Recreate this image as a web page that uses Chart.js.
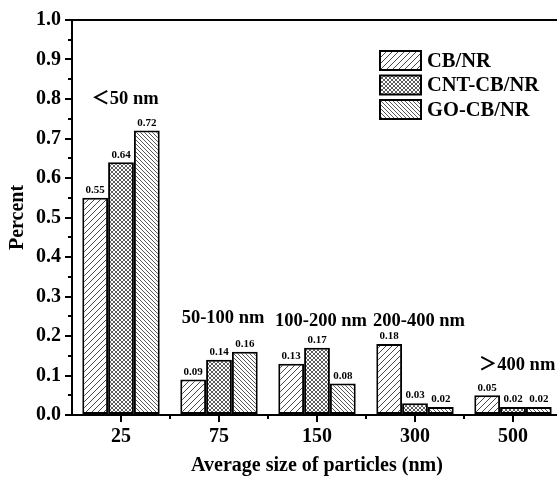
<!DOCTYPE html>
<html>
<head>
<meta charset="utf-8">
<script src="https://cdn.jsdelivr.net/npm/chart.js@4.4.0/dist/chart.umd.min.js"></script>
<style>
  html, body { margin: 0; padding: 0; background: #fff; overflow: hidden; }
  #wrap { width: 566px; height: 482px; }
</style>
</head>
<body>
<div id="wrap"><canvas id="chart" width="566" height="482"></canvas></div>
<script>
// particle size categories (nm)
const categories = ['25', '75', '150', '300', '500'];
const seriesNames = ['CB/NR', 'CNT-CB/NR', 'GO-CB/NR'];
const cbValues = [0.55, 0.09, 0.13, 0.18, 0.05];
const cntValues = [0.64, 0.14, 0.17, 0.03, 0.02];
const goValues = [0.72, 0.16, 0.08, 0.02, 0.02];
const yTicks = [0, 0.1, 0.2, 0.3, 0.4, 0.5, 0.6, 0.7, 0.8, 0.9, 1.0];
// size range labels and the height they sit at
const rangeLabels = ['\uFF1C50 nm', '50-100 nm', '100-200 nm', '200-400 nm', '\uFF1E400 nm'];
const rangeLabelY = [0.80, 0.245, 0.238, 0.238, 0.127];

const FONT = "'Liberation Serif', 'Noto Sans CJK SC', serif";

function makePattern(kind) {
  const s = kind === 'slash' ? 6 : 4;
  const c = document.createElement('canvas');
  c.width = s; c.height = s;
  const g = c.getContext('2d');
  g.fillStyle = '#fff';
  g.fillRect(0, 0, s, s);
  g.strokeStyle = kind === 'back' ? '#444' : '#333';
  g.lineWidth = kind === 'cross' ? 0.8 : 0.9;
  g.beginPath();
  if (kind === 'slash' || kind === 'cross') {
    g.moveTo(-1, s + 1); g.lineTo(s + 1, -1);
    g.moveTo(-1, 1); g.lineTo(1, -1);
    g.moveTo(s - 1, s + 1); g.lineTo(s + 1, s - 1);
  }
  if (kind === 'back' || kind === 'cross') {
    g.moveTo(-1, -1); g.lineTo(s + 1, s + 1);
    g.moveTo(s - 1, -1); g.lineTo(s + 1, 1);
    g.moveTo(-1, s - 1); g.lineTo(1, s + 1);
  }
  g.stroke();
  return g.createPattern(c, 'repeat');
}

const fills = [makePattern('slash'), makePattern('cross'), makePattern('back')];

const extras = {
  id: 'extras',
  afterDatasetsDraw(chart) {
    const ctx = chart.ctx;
    const x = chart.scales.x, y = chart.scales.y;
    const area = chart.chartArea;
    ctx.save();
    // top frame line
    ctx.strokeStyle = '#000';
    ctx.lineWidth = 2;
    ctx.beginPath();
    ctx.moveTo(area.left - 1, area.top);
    ctx.lineTo(area.right, area.top);
    ctx.stroke();
    // minor ticks
    ctx.beginPath();
    for (let i = 0; i < yTicks.length - 1; i++) {
      const py = Math.round(y.getPixelForValue((yTicks[i] + yTicks[i + 1]) / 2));
      ctx.moveTo(area.left, py); ctx.lineTo(area.left - 4, py);
    }
    for (let i = 0; i < categories.length - 1; i++) {
      const px = Math.round((x.getPixelForValue(i) + x.getPixelForValue(i + 1)) / 2);
      ctx.moveTo(px, area.bottom); ctx.lineTo(px, area.bottom + 4);
    }
    ctx.stroke();
    // value labels
    ctx.fillStyle = '#000';
    ctx.textAlign = 'center';
    ctx.textBaseline = 'bottom';
    ctx.font = 'bold 11px ' + FONT;
    chart.data.datasets.forEach((ds, di) => {
      chart.getDatasetMeta(di).data.forEach((bar, i) => {
        ctx.fillText(ds.data[i].toFixed(2), bar.x, bar.y - 2);
      });
    });
    // size range labels
    ctx.font = 'bold 18.5px ' + FONT;
    ctx.textBaseline = 'middle';
    rangeLabels.forEach((t, i) => {
      ctx.fillText(t, x.getPixelForValue(i) + 4, y.getPixelForValue(rangeLabelY[i]));
    });
    // legend
    ctx.textAlign = 'left';
    ctx.font = 'bold 20.5px ' + FONT;
    seriesNames.forEach((name, i) => {
      const by = 51 + i * 24.5;
      ctx.fillStyle = fills[i];
      ctx.fillRect(380, by, 41, 19);
      ctx.lineWidth = 2;
      ctx.strokeStyle = '#000';
      ctx.strokeRect(380, by, 41, 19);
      ctx.fillStyle = '#000';
      ctx.fillText(name, 427, by + 10.5);
    });
    ctx.restore();
  }
};

new Chart(document.getElementById('chart'), {
  type: 'bar',
  data: {
    labels: categories,
    datasets: [
      { label: seriesNames[0], data: cbValues, backgroundColor: fills[0] },
      { label: seriesNames[1], data: cntValues, backgroundColor: fills[1] },
      { label: seriesNames[2], data: goValues, backgroundColor: fills[2] }
    ]
  },
  options: {
    responsive: false,
    animation: false,
    datasets: {
      bar: {
        borderColor: '#000',
        borderWidth: 2,
        borderSkipped: false,
        categoryPercentage: 0.79,
        barPercentage: 1
      }
    },
    layout: { padding: { top: 20, left: 4, right: 4, bottom: 4 } },
    plugins: { legend: { display: false }, tooltip: { enabled: false } },
    scales: {
      x: {
        offset: true,
        grid: { offset: false, drawOnChartArea: false, tickLength: 7, color: '#000', lineWidth: 2 },
        border: { color: '#000', width: 2 },
        ticks: { color: '#000', font: { family: FONT, size: 20, weight: 'bold' }, padding: 3 },
        title: {
          display: true,
          text: 'Average size of particles (nm)',
          color: '#000',
          font: { family: FONT, size: 20, weight: 'bold' },
          padding: { top: 0, bottom: 0 }
        },
        afterFit(scale) { scale.height = 63; }
      },
      y: {
        min: 0,
        max: 1,
        grid: { drawOnChartArea: false, tickLength: 7, color: '#000', lineWidth: 2 },
        border: { color: '#000', width: 2 },
        ticks: {
          stepSize: 0.1,
          color: '#000',
          font: { family: FONT, size: 20, weight: 'bold' },
          padding: 4,
          callback: v => Number(v).toFixed(1)
        },
        title: {
          display: true,
          text: 'Percent',
          color: '#000',
          font: { family: FONT, size: 20, weight: 'bold' },
          padding: { top: 2, bottom: 0 }
        },
        afterFit(scale) { scale.width = 68; }
      }
    }
  },
  plugins: [extras]
});
</script>
</body>
</html>
